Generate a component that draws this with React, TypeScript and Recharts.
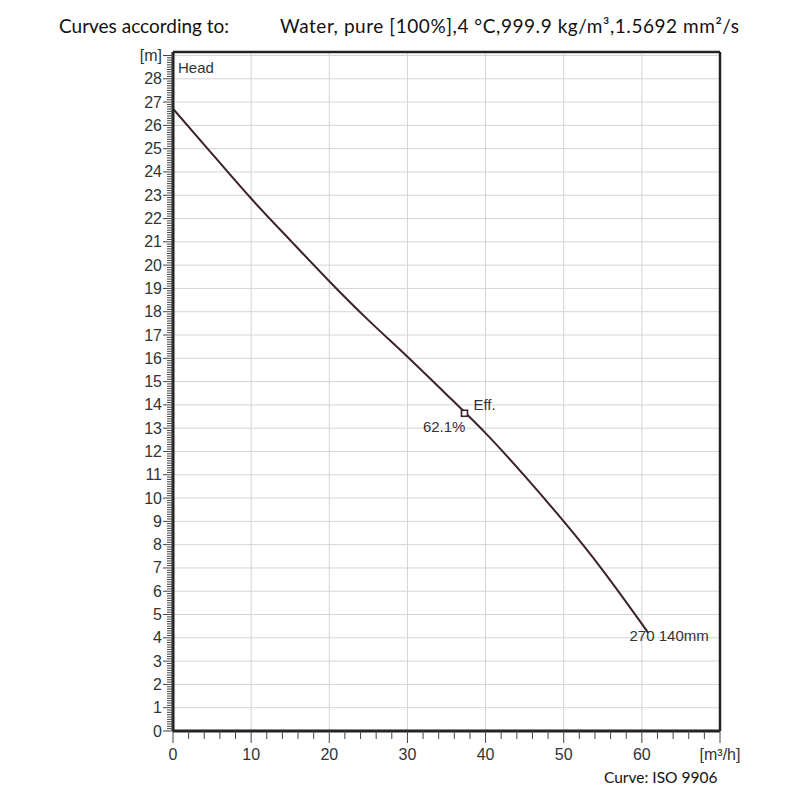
import { ComposedChart, Line, XAxis, YAxis, CartesianGrid, ReferenceDot, ReferenceLine } from 'recharts'

// Pump curve: flow [m³/h] vs head [m]
const flow = [0, 5, 10, 15, 20, 25, 30, 35, 40, 45, 50, 55, 60, 60.6]
const head = [26.72, 24.78, 22.86, 21.07, 19.31, 17.64, 16.07, 14.45, 12.79, 10.95, 9.0, 6.9, 4.6, 4.3]

const effFlow = 37.3
const effHead = 13.64
const effLabel = '62.1%'
const curveLabel = '270 140mm'

const xMajor = [0, 10, 20, 30, 40, 50, 60, 70]
const yMajor = [0, 1, 2, 3, 4, 5, 6, 7, 8, 9, 10, 11, 12, 13, 14, 15, 16, 17, 18, 19, 20, 21, 22, 23, 24, 25, 26, 27, 28, 29]
const xUnitLabel = '[m³/h]'
const yUnitLabel = '[m]'

const X_MAX = 70
const Y_MAX = 29.15

// minor ticks: every 2 m³/h and every 0.1 m
const xTicks = Array.from({ length: 36 }, (_, i) => i * 2)
const yTicks = Array.from({ length: 291 }, (_, i) => i / 10)

const data = flow.map((q, i) => ({ q, h: head[i] }))

const LINE = '#3b2328'
const TEXT = '#333'
const FONT = '"Liberation Sans", Arial, sans-serif'
const HEADER_FONT = 'Lato, sans-serif'

function YTick({ x, y, payload }: any) {
  const v = payload.value
  const major = Math.abs(v - Math.round(v)) < 1e-6
  if (!major) return <line x1={x - 6} x2={x} y1={y} y2={y} stroke="#444" strokeWidth={1} />
  return (
    <g>
      <line x1={x - 10} x2={x} y1={y} y2={y} stroke="#444" strokeWidth={1} />
      <text x={x - 11} y={y} dy={5.5} textAnchor="end" fontSize={16} fontFamily={FONT} fill={TEXT}>
        {Math.round(v) === 29 ? yUnitLabel : Math.round(v)}
      </text>
    </g>
  )
}

function XTick({ x, y, payload }: any) {
  const v = payload.value
  const major = xMajor.includes(v)
  if (!major) return <line x1={x} x2={x} y1={y} y2={y + 8} stroke="#444" strokeWidth={1} />
  return (
    <g>
      <line x1={x} x2={x} y1={y} y2={y + 12} stroke="#444" strokeWidth={1} />
      <text x={x} y={y + 29} textAnchor="middle" fontSize={16} fontFamily={FONT} fill={TEXT}>
        {v === 70 ? xUnitLabel : v}
      </text>
    </g>
  )
}

function EffMarker({ cx, cy }: any) {
  return (
    <g>
      <rect x={cx - 3} y={cy - 3} width={6} height={6} fill="#fff" stroke={LINE} strokeWidth={1.6} />
      <text x={cx + 9} y={cy - 8} dy={5} fontSize={15} fontFamily={FONT} fill={TEXT}>Eff.</text>
      <text x={cx + 1} y={cy + 14} dy={5} textAnchor="end" fontSize={15} fontFamily={FONT} fill={TEXT}>
        {effLabel}
      </text>
    </g>
  )
}

function EndLabel({ x, y, index }: any) {
  if (index !== data.length - 1) return null
  return (
    <text x={x - 17} y={y + 5} dy={5} fontSize={15} fontFamily={FONT} fill={TEXT}>
      {curveLabel}
    </text>
  )
}

export default function App() {
  return (
    <div style={{ position: 'absolute', left: 0, top: 0, width: 800, height: 800, background: '#fff' }}>
      <div style={{ position: 'absolute', left: 59, top: 14, fontFamily: HEADER_FONT, fontSize: 19, color: '#111', whiteSpace: 'nowrap' }}>
        Curves according to:
      </div>
      <div style={{ position: 'absolute', left: 280, top: 14, fontFamily: HEADER_FONT, fontSize: 19, letterSpacing: 0.55, color: '#111', whiteSpace: 'nowrap' }}>
        Water, pure [100%],4 °C,999.9 kg/m³,1.5692 mm²/s
      </div>
      <div style={{ position: 'absolute', left: 604, top: 768, fontFamily: HEADER_FONT, fontSize: 15.5, color: '#111', whiteSpace: 'nowrap' }}>
        Curve: ISO 9906
      </div>
      <div style={{ position: 'absolute', left: 178, top: 59, fontFamily: FONT, fontSize: 15, color: TEXT }}>Head</div>
      <ComposedChart width={800} height={800} data={data} margin={{ top: 52, right: 80, bottom: 39, left: 133 }}>
        <CartesianGrid stroke="#d4d4d4" strokeWidth={1} horizontalValues={yMajor} verticalValues={xMajor} />
        <XAxis
          dataKey="q"
          type="number"
          domain={[0, X_MAX]}
          ticks={xTicks}
          interval={0}
          tickSize={0}
          tickMargin={0}
          tickLine={false}
          tick={<XTick />}
          height={30}
          axisLine={{ stroke: '#222', strokeWidth: 3 }}
          allowDataOverflow
        />
        <YAxis
          type="number"
          domain={[0, Y_MAX]}
          ticks={yTicks}
          interval={0}
          tickSize={0}
          tickMargin={0}
          tickLine={false}
          tick={<YTick />}
          width={40}
          axisLine={{ stroke: '#222', strokeWidth: 3 }}
          allowDataOverflow
        />
        <ReferenceLine y={Y_MAX} stroke="#222" strokeWidth={2.5} />
        <ReferenceLine x={X_MAX} stroke="#222" strokeWidth={2.5} />
        <Line
          dataKey="h"
          type="natural"
          stroke={LINE}
          strokeWidth={2}
          dot={false}
          label={<EndLabel />}
          isAnimationActive={false}
        />
        <ReferenceDot x={effFlow} y={effHead} r={3} shape={<EffMarker />} />
      </ComposedChart>
    </div>
  )
}
